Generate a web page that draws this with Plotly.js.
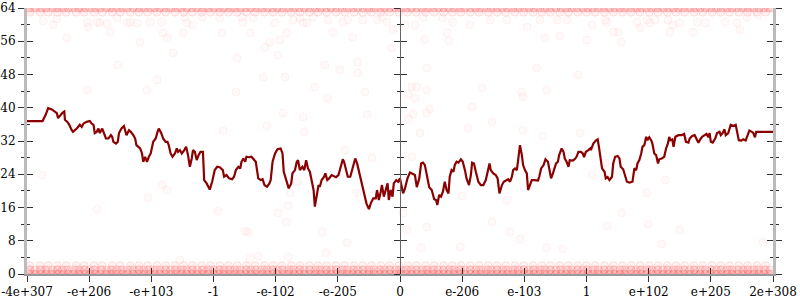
<!DOCTYPE html>
<html>
<head>
<meta charset="utf-8">
<script src="https://cdn.plot.ly/plotly-3.0.1.min.js"></script>
<style>html,body{margin:0;padding:0;background:#fff;}#chart{width:800px;height:300px;}</style>
</head>
<body>
<div id="chart"></div>
<script>
// x axis: ordered positions of doubles, ticks every 100 units
const tickPos = [0,100,200,300,400,500,600,700,800,900,1000,1100,1200];
const tickLabels = ["-4e+307","-e+206","-e+103","-1","-e-102","-e-205","0","e-206","e-103","1","e+102","e+205","2e+308"];
const yTicks = [0,8,16,24,32,40,48,56,64];

// dark red running line
const lineX = [0,25,30,34,40,44,48,50,54,57,60,61,65,68,72,74,80,83,85,88,91,96,101,104,107,109,112,115,117,121,124,127,131,135,137,139,143,146,148,152,156,158,160,164,167,171,174,176,182,185,187,190,193,196,199,203,207,210,212,216,219,223,226,228,231,234,238,241,243,246,249,253,256,259,262,265,267,270,273,276,279,283,285,289,294,298,302,306,310,315,317,321,325,330,333,336,340,343,345,348,351,353,357,361,365,368,372,376,379,382,386,390,392,395,399,403,408,411,413,418,421,425,427,431,434,436,439,443,446,449,452,455,458,461,463,466,469,471,474,478,480,483,486,490,494,497,501,505,508,510,513,516,520,524,528,531,534,537,540,544,546,550,553,557,561,563,566,569,571,574,577,580,582,585,588,590,594,597,600,603,605,608,612,616,620,624,627,631,634,637,640,644,647,651,655,658,660,663,666,669,672,675,678,680,683,686,688,691,694,698,701,705,707,711,714,716,719,722,726,730,734,738,741,744,746,750,754,757,760,764,767,771,774,777,780,782,785,788,790,793,796,798,801,804,806,809,812,817,822,824,827,831,834,838,840,843,846,848,851,854,856,860,863,865,868,871,873,878,881,884,887,891,894,896,899,903,906,907,911,915,918,920,923,925,929,931,934,937,941,943,946,950,953,955,959,962,965,969,974,977,980,982,985,988,990,993,996,998,1001,1004,1006,1009,1012,1015,1017,1021,1025,1028,1031,1033,1035,1038,1040,1043,1048,1053,1057,1060,1064,1066,1070,1074,1077,1080,1083,1086,1090,1093,1096,1098,1100,1103,1107,1110,1114,1116,1119,1122,1124,1128,1132,1136,1140,1143,1145,1149,1152,1156,1159,1162,1166,1168,1171,1173,1176,1200];
const lineY = [36.8,36.8,38.3,39.9,39.6,39.1,38.7,37.5,38.3,38.8,39.1,37.1,36.6,35.9,34.6,34.2,35.0,35.4,35.9,35.4,36.2,36.6,36.8,36.2,35.9,33.9,34.2,35.0,33.9,35.0,33.9,32.6,32.6,33.4,33.0,31.8,31.4,31.8,33.9,35.0,35.6,34.2,33.4,34.6,34.2,33.4,32.6,31.0,30.2,29.0,27.0,28.2,27.0,28.2,29.0,31.8,32.6,34.2,35.0,33.9,32.6,31.8,31.8,31.0,29.0,28.2,29.0,30.2,29.4,29.8,29.0,29.8,30.6,28.6,25.8,27.8,29.8,29.4,27.4,28.6,29.4,29.4,22.6,21.8,20.3,22.3,25.0,25.8,25.7,25.0,23.4,23.8,23.0,22.8,23.4,25.0,25.8,25.4,27.0,27.8,27.0,28.2,28.1,28.2,27.6,27.0,23.0,22.6,22.8,21.4,21.0,21.8,22.6,27.0,29.0,30.0,30.2,29.0,24.6,22.2,20.6,21.8,24.2,25.0,27.0,27.4,25.0,25.8,25.0,27.4,25.4,24.6,22.6,20.2,16.2,19.4,21.4,21.0,22.6,23.4,24.2,22.6,23.0,23.8,23.6,23.3,23.8,25.8,27.6,27.0,25.0,23.4,23.4,25.8,27.8,26.6,24.6,22.6,20.6,18.6,17.0,15.6,17.0,18.2,18.2,20.2,17.8,19.8,21.4,18.6,20.6,21.8,17.8,20.2,18.6,21.8,22.6,22.2,23.0,20.2,19.4,20.6,23.0,24.4,24.1,23.8,20.9,23.0,26.6,26.8,26.2,23.4,20.9,20.2,18.0,17.8,16.6,19.0,18.6,19.8,22.2,20.2,19.4,23.4,25.0,24.6,26.2,27.0,26.8,27.6,27.0,24.6,23.0,21.4,23.8,26.8,26.6,24.6,22.2,21.4,21.4,22.6,24.6,26.6,25.0,24.2,23.8,23.0,19.4,21.4,22.2,22.6,22.8,22.2,23.4,25.0,25.4,25.0,27.4,31.0,28.6,26.2,25.0,24.2,20.2,21.4,22.6,22.6,22.5,23.4,25.4,26.2,27.6,27.0,25.4,23.0,24.2,25.4,26.6,27.0,28.6,30.2,29.4,27.8,27.0,25.8,27.4,27.3,27.6,28.2,29.4,29.4,29.0,28.1,29.4,29.8,30.2,29.8,31.4,32.1,32.4,30.6,27.8,25.4,24.6,23.0,23.3,22.6,23.4,26.6,28.2,28.4,27.8,25.8,25.2,23.8,22.2,22.0,22.2,25.4,25.0,26.6,27.4,29.0,30.6,31.0,33.0,32.2,32.9,32.2,31.4,29.0,28.6,26.6,27.6,27.8,28.2,30.2,31.4,33.0,32.2,32.4,30.6,33.0,33.4,33.4,33.7,31.8,31.6,32.6,33.2,33.4,32.6,31.6,32.4,33.0,33.4,33.7,32.9,33.9,31.8,31.6,32.6,33.9,34.2,33.4,33.9,34.8,33.4,33.9,35.9,35.6,35.9,33.9,32.2,32.1,32.4,32.1,33.4,34.5,34.2,34.0,32.9,34.2,34.2,34.2];

// dense bands of sample points at the extreme values
const bandA = [2,9,15,24,31,38,46,52,60,67,73,82,88,95,104,111,117,126,133,139,148,155,161,170,177,184,191,199,206,213,220,228,235,243,249,257,264,272,279,286,293,301,307,315,322,330,337,344,351,359,366,373,380,388,395,402,409,417,423,431,438,446,452,460,467,474,482,489,496,503,511,518,525,532,540,547,554,561,569,576,583,590,598,605,612,619,627,634,641,648,656,663,670,677,685,692,699,706,714,721,728,735,743,750,757,764,772,779,786,793,801,808,815,822,830,837,844,851,859,866,873,880,888,895,902,909,917,924,931,938,946,953,960,967,975,982,989,996,1004,1011,1018,1025,1033,1040,1047,1054,1062,1069,1076,1083,1091,1098,1105,1112,1120,1127,1134,1141,1149,1156,1163,1170,1178,1185,1192,1199];
const bandB = [5,21,34,49,63,79,92,108,121,137,150,166,180,194,209,223,238,252,266,281,295,310,324,338,353,367,382,396,410,425,439,454,468,482,497,511,526,540,554,569,583,598,612,626,641,655,670,684,698,713,727,742,756,770,785,799,814,828,842,857,871,886,900,914,929,943,958,972,986,1001,1015,1030,1044,1058,1073,1087,1102,1116,1130,1145,1159,1174,1188];
const bandC = [4,13,22,30,41,49,57,66,76,84,93,101,109,119,128,135,144,153,162,171,180,188,197,205,214,223,231,240,248,257,266,274,283,291,300,309,317,326,334,343,352,360,369,378,386,395,403,412,421,429,438,446,455,464,472,481,489,498,507,515,524,532,541,550,558,567,575,584,593,601,610,618,627,636,644,653,661,670,679,687,696,704,713,722,730,739,747,756,765,773,782,790,799,808,816,825,833,842,851,859,868,876,885,894,902,911,919,928,937,945,954,962,971,980,988,997,1005,1014,1023,1031,1040,1048,1057,1066,1074,1083,1091,1100,1109,1117,1126,1134,1143,1152,1160,1169,1177,1186,1195];
const bands = [
  {xs: bandA, level: 64},
  {xs: bandC, level: 64},
  {xs: bandB, level: 63},
  {xs: bandA, level: 0},
  {xs: bandC, level: 0},
  {xs: bandC, level: 1},
  {xs: bandB, level: 1},
  {xs: bandB, level: 2}
];

// scattered sample points
const scatX = [26,42,48,64,97,98,113,117,129,134,145,146,161,166,177,182,193,198,209,217,219,225,235,251,254,257,267,97,24,113,195,217,225,246,282,310,314,338,336,346,347,359,364,383,380,391,399,404,407,415,418,428,439,444,450,460,463,479,483,484,492,503,508,516,524,532,532,540,544,547,563,571,579,587,589,412,444,386,315,446,307,351,356,359,372,404,417,420,434,475,481,531,515,555,423,420,512,608,624,637,640,643,643,619,627,613,624,648,643,621,614,632,676,679,668,685,713,716,709,732,745,748,772,796,798,798,804,820,825,833,836,830,853,857,869,886,890,901,909,605,611,619,634,643,700,697,748,772,777,793,836,862,909,930,933,943,951,956,981,986,997,1002,1010,1031,1034,1039,1050,1071,1078,1091,1123,1142,1147,1158,1176,930,997,999,1027,1184,933,1021,957,1050];
const scatY = [60.9,59.9,61.4,56.8,60.6,59.4,60.6,60.4,60.2,58.2,61.6,50.3,60.4,60.6,60.4,55.8,44.3,60.6,46.7,60.6,58.0,56.8,53.2,58.0,61.8,60.4,59.9,44.3,23.8,15.6,18.3,21.4,20.2,3.4,61.8,61.6,58.0,52.0,43.8,61.8,60.6,58.0,61.6,54.6,47.4,55.8,60.4,52.7,56.3,47.4,58.0,61.1,61.6,60.4,60.4,61.8,45.0,50.3,42.3,61.1,58.2,49.1,60.6,61.1,57.0,51.0,48.4,61.1,43.8,38.3,61.1,61.8,60.6,54.4,58.7,38.7,37.8,35.6,34.4,34.2,15.2,10.3,10.1,3.8,4.3,14.7,12.5,4.1,22.1,10.1,5.1,19.5,7.5,27.9,19.5,16.4,29.8,59.9,59.9,61.8,56.5,49.6,44.3,45.0,45.0,43.3,42.3,39.7,38.7,38.5,37.3,33.9,58.0,56.1,61.6,60.6,59.9,40.2,35.1,44.8,61.1,36.6,61.1,43.8,42.6,34.6,59.4,49.6,61.1,56.8,44.3,33.2,61.1,57.3,61.1,47.9,33.9,56.3,59.9,14.7,10.6,28.2,6.3,11.3,18.8,6.5,12.5,17.8,10.1,8.4,6.3,6.0,23.8,61.1,60.6,58.2,58.2,55.8,60.6,59.2,61.1,60.4,61.1,61.1,58.2,59.9,60.4,58.2,60.6,60.4,60.6,60.4,58.7,61.8,62.3,26.7,19.5,12.0,22.6,7.7,11.5,7.2,14.7,10.6];

let bandPX = [], bandPY = [];
bands.forEach(b => { b.xs.forEach(v => { bandPX.push(v); bandPY.push(b.level); }); });

const traces = [
  {x: bandPX, y: bandPY, type: 'scatter', mode: 'markers', hoverinfo: 'skip',
   marker: {size: 8, color: 'rgba(255,0,0,0.05)', line: {color: 'rgba(255,0,0,0.11)', width: 1}}},
  {x: scatX, y: scatY, type: 'scatter', mode: 'markers', hoverinfo: 'skip',
   marker: {size: 8, color: 'rgba(255,0,0,0.02)', line: {color: 'rgba(255,0,0,0.05)', width: 1}}},
  {x: lineX, y: lineY, type: 'scatter', mode: 'lines', hoverinfo: 'skip',
   line: {color: '#8b0000', width: 2.2}},
  // empty traces so the overlay axes are drawn
  {x: [], y: [], type: 'scatter', mode: 'markers', xaxis: 'x2', yaxis: 'y2', hoverinfo: 'skip'},
  {x: [], y: [], type: 'scatter', mode: 'markers', xaxis: 'x', yaxis: 'y3', hoverinfo: 'skip'},
  {x: [], y: [], type: 'scatter', mode: 'markers', xaxis: 'x', yaxis: 'y4', hoverinfo: 'skip'}
];

const minorOut = {dtick: 4, ticklen: 3, ticks: 'outside', tickcolor: '#333', tickwidth: 1, showgrid: false};
const minorIn = {dtick: 4, ticklen: 3, ticks: 'inside', tickcolor: '#333', tickwidth: 1, showgrid: false};
const common = {range: [0, 64], tickmode: 'array', tickvals: yTicks, showgrid: false, zeroline: false, fixedrange: true, tickcolor: '#333', tickwidth: 1};

const layout = {
  width: 800, height: 300,
  margin: {l: 27, r: 27, t: 8, b: 26, pad: 0},
  paper_bgcolor: '#fff', plot_bgcolor: '#fff', showlegend: false,
  font: {family: 'DejaVu Serif', size: 12, color: '#000'},
  xaxis: {range: [0, 1200], tickmode: 'array', tickvals: tickPos, ticktext: tickLabels,
    ticks: 'outside', ticklen: 6, tickcolor: '#333', tickwidth: 1,
    showline: true, linecolor: '#999', linewidth: 2, showgrid: false, zeroline: false, fixedrange: true},
  xaxis2: {overlaying: 'x', anchor: 'y', side: 'bottom', range: [0, 1200], tickmode: 'array', tickvals: tickPos,
    ticks: 'inside', ticklen: 6, tickcolor: '#333', tickwidth: 1, showticklabels: false,
    showline: false, showgrid: false, zeroline: false, fixedrange: true},
  yaxis: Object.assign({}, common, {ticks: 'outside', ticklen: 6, minor: minorOut, mirror: 'allticks',
    showline: true, linecolor: '#bbb', linewidth: 3}),
  yaxis2: Object.assign({}, common, {overlaying: 'y', anchor: 'x2', ticks: 'inside', ticklen: 6, minor: minorIn, mirror: 'allticks',
    showline: false, showticklabels: false}),
  yaxis3: Object.assign({}, common, {overlaying: 'y', anchor: 'free', position: 0.5, side: 'left',
    ticks: 'outside', ticklen: 6, minor: minorOut, showline: true, linecolor: '#666', linewidth: 1, showticklabels: false}),
  yaxis4: Object.assign({}, common, {overlaying: 'y', anchor: 'free', position: 0.5, side: 'left',
    ticks: 'inside', ticklen: 6, minor: minorIn, showline: false, showticklabels: false})
};

Plotly.newPlot('chart', traces, layout, {staticPlot: true, displayModeBar: false});
</script>
</body>
</html>
